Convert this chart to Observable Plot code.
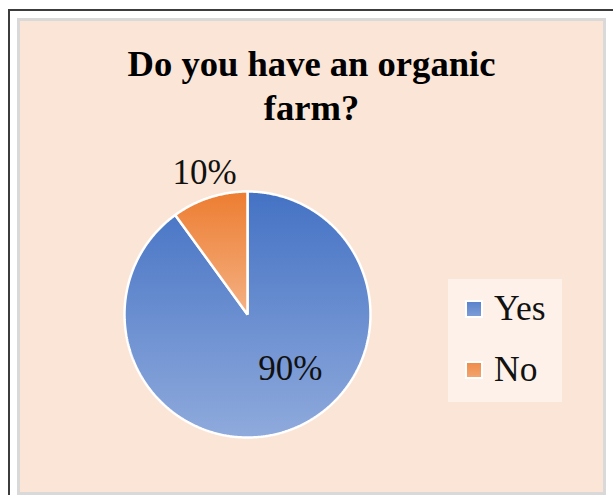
<!DOCTYPE html>
<html><head><meta charset="utf-8">
<script src="https://cdn.jsdelivr.net/npm/d3@7"></script>
<script src="https://cdn.jsdelivr.net/npm/@observablehq/plot@0.6"></script>
<style>
html,body{margin:0;padding:0;background:#fff;width:613px;height:495px;overflow:hidden;position:relative;}
#frame{position:absolute;left:8px;top:9px;width:700px;height:600px;border-left:2px solid #3c3c3c;border-top:2px solid #3c3c3c;}
#panel{position:absolute;left:17px;top:18px;width:583px;height:471px;border:3px solid #d9d9d9;background:#FBE5D6;}
#title{position:absolute;left:0;top:20.5px;width:583px;text-align:center;font-family:"Liberation Serif","Times New Roman",serif;font-weight:bold;font-size:36.6px;line-height:44px;color:#000;}
#chart{position:absolute;left:0;top:0;}
#legend{position:absolute;left:428px;top:258px;width:114px;height:123px;background:#FDF1EA;}
.sw{position:absolute;left:17px;width:14px;height:14px;border:2px solid #fff;}
.lt{position:absolute;left:46px;font-family:"Liberation Serif","Times New Roman",serif;font-size:35.5px;line-height:34px;color:#111;white-space:nowrap;}
</style>
</head><body>
<div id="frame"></div>
<div id="panel">
  <div id="chart"></div>
  <div id="title">Do you have an organic<br>farm?</div>
  <div id="legend"></div>
</div>
<script>
const categories = ["Yes", "No"];
const values = [90, 10];
const labels = ["90%", "10%"];

const gradTop = {Yes: "#4472C4", No: "#ED7D31"};
const gradBottom = {Yes: "#8FAADC", No: "#F4B183"};

const pie = d3.pie().sort(null).value(d => d.value).startAngle(0).endAngle(2 * Math.PI);
const data = categories.map((c, i) => ({cat: c, value: values[i], label: labels[i]}));
const arcs = pie(data);

// slice outlines in unit-circle coordinates (y up)
const points = [];
for (const a of arcs) {
  const cat = a.data.cat;
  points.push({cat, x: 0, y: 0});
  const n = Math.max(2, Math.ceil((a.endAngle - a.startAngle) / (Math.PI / 360)));
  for (let k = 0; k <= n; k++) {
    const t = a.startAngle + (a.endAngle - a.startAngle) * k / n;
    points.push({cat, x: Math.sin(t), y: Math.cos(t)});
  }
}

const labelPts = arcs.map(a => {
  const mid = (a.startAngle + a.endAngle) / 2;
  const outside = a.data.value < 20;
  const rr = outside ? 1.21 : 0.6;
  return {cat: a.data.cat, label: a.data.label, outside, x: rr * Math.sin(mid), y: rr * Math.cos(mid)};
});

const font = '"Liberation Serif","Times New Roman",serif';

const chart = Plot.plot({
  width: 583,
  height: 471,
  margin: 0,
  style: {background: "transparent", overflow: "visible"},
  x: {domain: [-1, 1], range: [104, 350], axis: null},
  y: {domain: [-1, 1], range: [416, 170], axis: null},
  color: {domain: categories, range: categories.map(c => `url(#grad-${c})`)},
  marks: [
    Plot.line(points, {x: "x", y: "y", z: "cat", fill: "cat", stroke: "white", strokeWidth: 2.5, curve: "linear-closed", strokeLinejoin: "miter"}),
    Plot.text(labelPts.filter(d => d.outside), {x: "x", y: "y", text: "label", fontSize: 35, fontFamily: font, fill: "#111", dx: 3}),
    Plot.text(labelPts.filter(d => !d.outside), {x: "x", y: "y", text: "label", fontSize: 35, fontFamily: font, fill: "#111", dx: 20, dy: -16})
  ]
});

const defs = d3.select(chart).insert("defs", ":first-child");
for (const c of categories) {
  const g = defs.append("linearGradient").attr("id", `grad-${c}`).attr("x1", 0).attr("y1", 0).attr("x2", 0).attr("y2", 1);
  g.append("stop").attr("offset", "0%").attr("stop-color", gradTop[c]);
  g.append("stop").attr("offset", "100%").attr("stop-color", gradBottom[c]);
}
document.getElementById("chart").appendChild(chart);

// legend
const leg = document.getElementById("legend");
categories.forEach((c, i) => {
  const sw = document.createElement("div");
  sw.className = "sw";
  sw.style.top = (21 + i * 61) + "px";
  sw.style.background = `linear-gradient(${d3.interpolateRgb(gradTop[c], gradBottom[c])(0.3)}, ${d3.interpolateRgb(gradTop[c], gradBottom[c])(0.75)})`;
  leg.appendChild(sw);
  const t = document.createElement("div");
  t.className = "lt";
  t.style.top = (12 + i * 61) + "px";
  t.textContent = c;
  leg.appendChild(t);
});
</script>
</body></html>
